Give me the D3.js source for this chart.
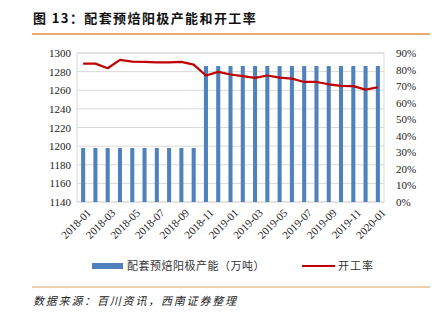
<!DOCTYPE html>
<html><head><meta charset="utf-8">
<script src="https://cdn.jsdelivr.net/npm/d3@7"></script>
<style>
body{margin:0;background:#fff;}
svg{display:block;}
</style></head>
<body>
<svg id="c" width="442" height="323"></svg>
<script>
const months = ["2018-01","2018-02","2018-03","2018-04","2018-05","2018-06","2018-07","2018-08","2018-09","2018-10","2018-11","2018-12",
"2019-01","2019-02","2019-03","2019-04","2019-05","2019-06","2019-07","2019-08","2019-09","2019-10","2019-11","2019-12","2020-01"];
const capacity = [1198,1198,1198,1198,1198,1198,1198,1198,1198,1198,1286,1286,1286,1286,1286,1286,1286,1286,1286,1286,1286,1286,1286,1286,1286];
const utilization = [83.6,83.6,80.8,85.9,84.8,84.6,84.3,84.3,84.6,83.0,76.4,78.6,77.0,76.0,75.0,76.4,75.1,74.5,72.5,72.5,71.1,70.1,70.0,67.9,69.3];
const leftTicks = [1140,1160,1180,1200,1220,1240,1260,1280,1300];
const rightTicks = [0,10,20,30,40,50,60,70,80,90];
const labelMonths = months.filter((d,i)=>i%2===0);
const title = "图 13：配套预焙阳极产能和开工率";
const legendBar = "配套预焙阳极产能（万吨）";
const legendLine = "开工率";
const source = "数据来源：百川资讯，西南证券整理";

const svg = d3.select("#c");
const L=77, R=384, T=53, B=202;
const serif = "'Liberation Serif','Times New Roman',serif";
const cjk = "'Noto Sans CJK SC',sans-serif";

// title
svg.append("text").attr("x",33).attr("y",23).attr("font-family",cjk).attr("font-weight","bold")
  .attr("font-size",13).attr("letter-spacing",1.4).attr("fill","#111").text(title);
svg.append("line").attr("x1",32).attr("x2",430).attr("y1",34).attr("y2",34).attr("stroke","#E0913A").attr("stroke-width",1.5);

const x = d3.scaleBand().domain(months).range([L,R]).paddingInner(0.67).paddingOuter(0.335);
const yL = d3.scaleLinear().domain([1140,1300]).range([B,T]);
const yR = d3.scaleLinear().domain([0,90]).range([B,T]);

// gridlines
svg.append("g").selectAll("line").data(leftTicks).join("line")
  .attr("x1",L).attr("x2",R).attr("y1",d=>yL(d)).attr("y2",d=>yL(d))
  .attr("stroke","#d9d9d9").attr("stroke-width",1);
// frame
svg.append("rect").attr("x",L).attr("y",T).attr("width",R-L).attr("height",B-T)
  .attr("fill","none").attr("stroke","#d9d9d9").attr("stroke-width",1);

// bars
svg.append("g").selectAll("rect").data(months).join("rect")
  .attr("x",d=>x(d)).attr("width",x.bandwidth())
  .attr("y",(d,i)=>yL(capacity[i])).attr("height",(d,i)=>B-yL(capacity[i]))
  .attr("fill","#4F81BD");

// line
const line = d3.line().x((d,i)=>x(months[i])+x.bandwidth()/2).y(d=>yR(d));
svg.append("path").datum(utilization).attr("d",line).attr("fill","none")
  .attr("stroke","#C00000").attr("stroke-width",2.2).attr("stroke-linejoin","round");

// left axis
const axL = svg.append("g").attr("transform",`translate(${L},0)`)
  .call(d3.axisLeft(yL).tickValues(leftTicks).tickSize(0).tickPadding(6).tickFormat(d3.format("d")));
axL.select(".domain").remove();
axL.selectAll("text").attr("font-family",serif).attr("font-size",11).attr("fill","#222");

// right axis
const axR = svg.append("g").attr("transform",`translate(${R},0)`)
  .call(d3.axisRight(yR).tickValues(rightTicks).tickSize(0).tickPadding(12).tickFormat(d=>d+"%"));
axR.select(".domain").remove();
axR.selectAll("text").attr("font-family",serif).attr("font-size",11).attr("fill","#222");

// bottom axis
const axB = svg.append("g").attr("transform",`translate(0,${B})`)
  .call(d3.axisBottom(x).tickValues(labelMonths).tickSize(0).tickPadding(4));
axB.select(".domain").remove();
axB.selectAll("text").attr("font-family",serif).attr("font-size",11).attr("fill","#222")
  .attr("text-anchor","end").attr("dy","0.35em")
  .attr("transform","translate(3,6) rotate(-45)");

// legend
const lg = svg.append("g");
lg.append("rect").attr("x",92).attr("y",263).attr("width",31).attr("height",6).attr("fill","#4F81BD");
lg.append("text").attr("x",127).attr("y",270).attr("font-family",cjk).attr("font-size",11).attr("letter-spacing",0.5).attr("fill","#333").text(legendBar);
lg.append("line").attr("x1",302).attr("x2",335).attr("y1",266).attr("y2",266).attr("stroke","#C00000").attr("stroke-width",2.2);
lg.append("text").attr("x",338).attr("y",270).attr("font-family",cjk).attr("font-size",11).attr("letter-spacing",1).attr("fill","#333").text(legendLine);

svg.append("line").attr("x1",32).attr("x2",430).attr("y1",287).attr("y2",287).attr("stroke","#D9A25E").attr("stroke-width",1.2);
svg.append("text").attr("x",33).attr("y",305).attr("font-family",cjk).attr("font-style","italic")
  .attr("font-size",11).attr("letter-spacing",1.8).attr("fill","#222").text(source);
</script>
</body></html>
